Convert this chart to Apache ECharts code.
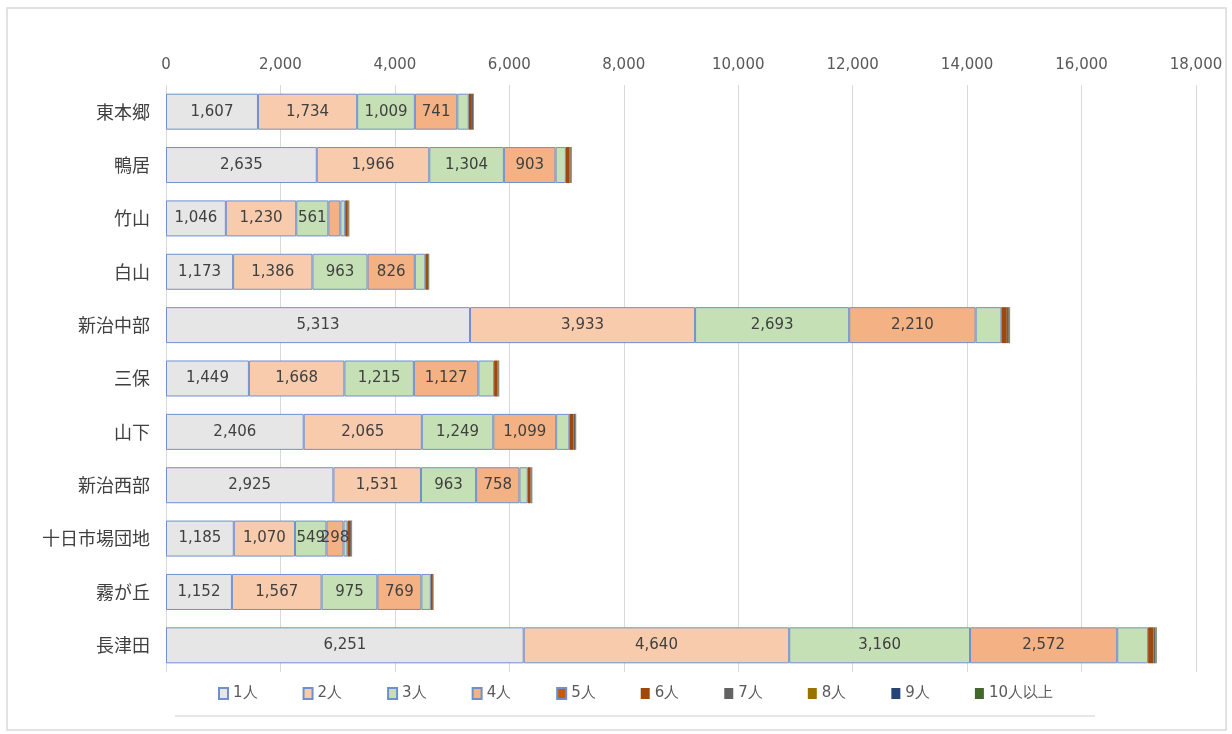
<!DOCTYPE html>
<html><head><meta charset="utf-8">
<script src="https://cdn.jsdelivr.net/npm/echarts@6/dist/echarts.min.js"></script>
<style>html,body{margin:0;padding:0;background:#fff}#c{width:1232px;height:734px}</style>
</head><body><div id="c"></div>
<script>
const categories = ['東本郷','鴨居','竹山','白山','新治中部','三保','山下','新治西部','十日市場団地','霧が丘','長津田'];
const seriesNames = ['1人','2人','3人','4人','5人','6人','7人','8人','9人','10人以上'];
const p1 = [1607, 2635, 1046, 1173, 5313, 1449, 2406, 2925, 1185, 1152, 6251];
const p2 = [1734, 1966, 1230, 1386, 3933, 1668, 2065, 1531, 1070, 1567, 4640];
const p3 = [1009, 1304, 561, 963, 2693, 1215, 1249, 963, 549, 975, 3160];
const p4 = [741, 903, 210, 826, 2210, 1127, 1099, 758, 298, 769, 2572];
const p5 = [200, 180, 85, 185, 450, 275, 230, 145, 70, 165, 540];
const p6 = [55, 60, 45, 45, 95, 60, 75, 50, 45, 35, 95];
const p7 = [20, 25, 15, 12, 35, 18, 25, 18, 20, 8, 35];
const p8 = [8, 10, 6, 5, 12, 6, 10, 6, 8, 3, 12];
const p9 = [3, 4, 2, 2, 4, 2, 4, 2, 3, 1, 4];
const p10 = [4, 5, 3, 3, 6, 3, 5, 3, 4, 2, 6];
const xTicks = {min: 0, max: 18000, interval: 2000};

const values = [p1,p2,p3,p4,p5,p6,p7,p8,p9,p10];
const legendColors = ['#e7e6e6','#f8cbad','#c5e0b4','#f4b183','#c55a11','#9e480e','#636363','#997300','#264478','#43682b'];
const barColors = ['#e7e6e6','#f8cbad','#c5e0b4','#f4b183','#c5e0b4','#9e480e','#636363','#997300','#264478','#43682b'];
const fmt = v => String(v).replace(/\B(?=(\d{3})+(?!\d))/g, ',');
const numFont = 'DejaVu Sans';

const series = seriesNames.map((name, i) => ({
  name, type: 'bar', stack: 'total', barWidth: 36,
  itemStyle: {color: legendColors[i], borderColor: i < 5 ? '#6f8fcf' : 'transparent', borderWidth: i < 5 ? 1 : 0},
  label: {show: i < 4, position: 'inside', color: '#404040', fontSize: 15,
    fontFamily: numFont,
    formatter: p => p.value >= 250 ? fmt(p.value) : ''},
  emphasis: {disabled: true},
  data: values[i].map(v => ({value: v, itemStyle: {color: barColors[i]}}))
}));

const chart = echarts.init(document.getElementById('c'), null, {renderer: 'canvas'});
chart.setOption({
  animation: false,
  backgroundColor: '#fff',
  grid: {left: 166, right: 36, top: 85, bottom: 62},
  xAxis: {type: 'value', position: 'top', min: xTicks.min, max: xTicks.max, interval: xTicks.interval,
    axisLine: {show: false}, axisTick: {show: false},
    splitLine: {lineStyle: {color: '#d9d9d9', width: 1}},
    axisLabel: {color: '#595959', fontSize: 15, margin: 12, fontFamily: numFont, formatter: fmt}},
  yAxis: {type: 'category', inverse: true, data: categories,
    axisLine: {show: false}, axisTick: {show: false},
    axisLabel: {color: '#404040', fontSize: 18, margin: 16, fontFamily: 'Noto Sans CJK JP'}},
  legend: {left: 213, top: 681, itemWidth: 9, itemHeight: 11, itemGap: 45,
    icon: 'rect', textStyle: {color: '#595959', fontSize: 15, fontFamily: numFont},
    data: seriesNames},
  graphic: [
    {type: 'rect', shape: {x: 7, y: 8, width: 1219, height: 722}, style: {fill: 'none', stroke: '#d9d9d9', lineWidth: 1.5}, silent: true},
    {type: 'line', shape: {x1: 175, y1: 716, x2: 1095, y2: 716}, style: {stroke: '#e6e6e6', lineWidth: 2}, silent: true}
  ],
  series
});
</script></body></html>
